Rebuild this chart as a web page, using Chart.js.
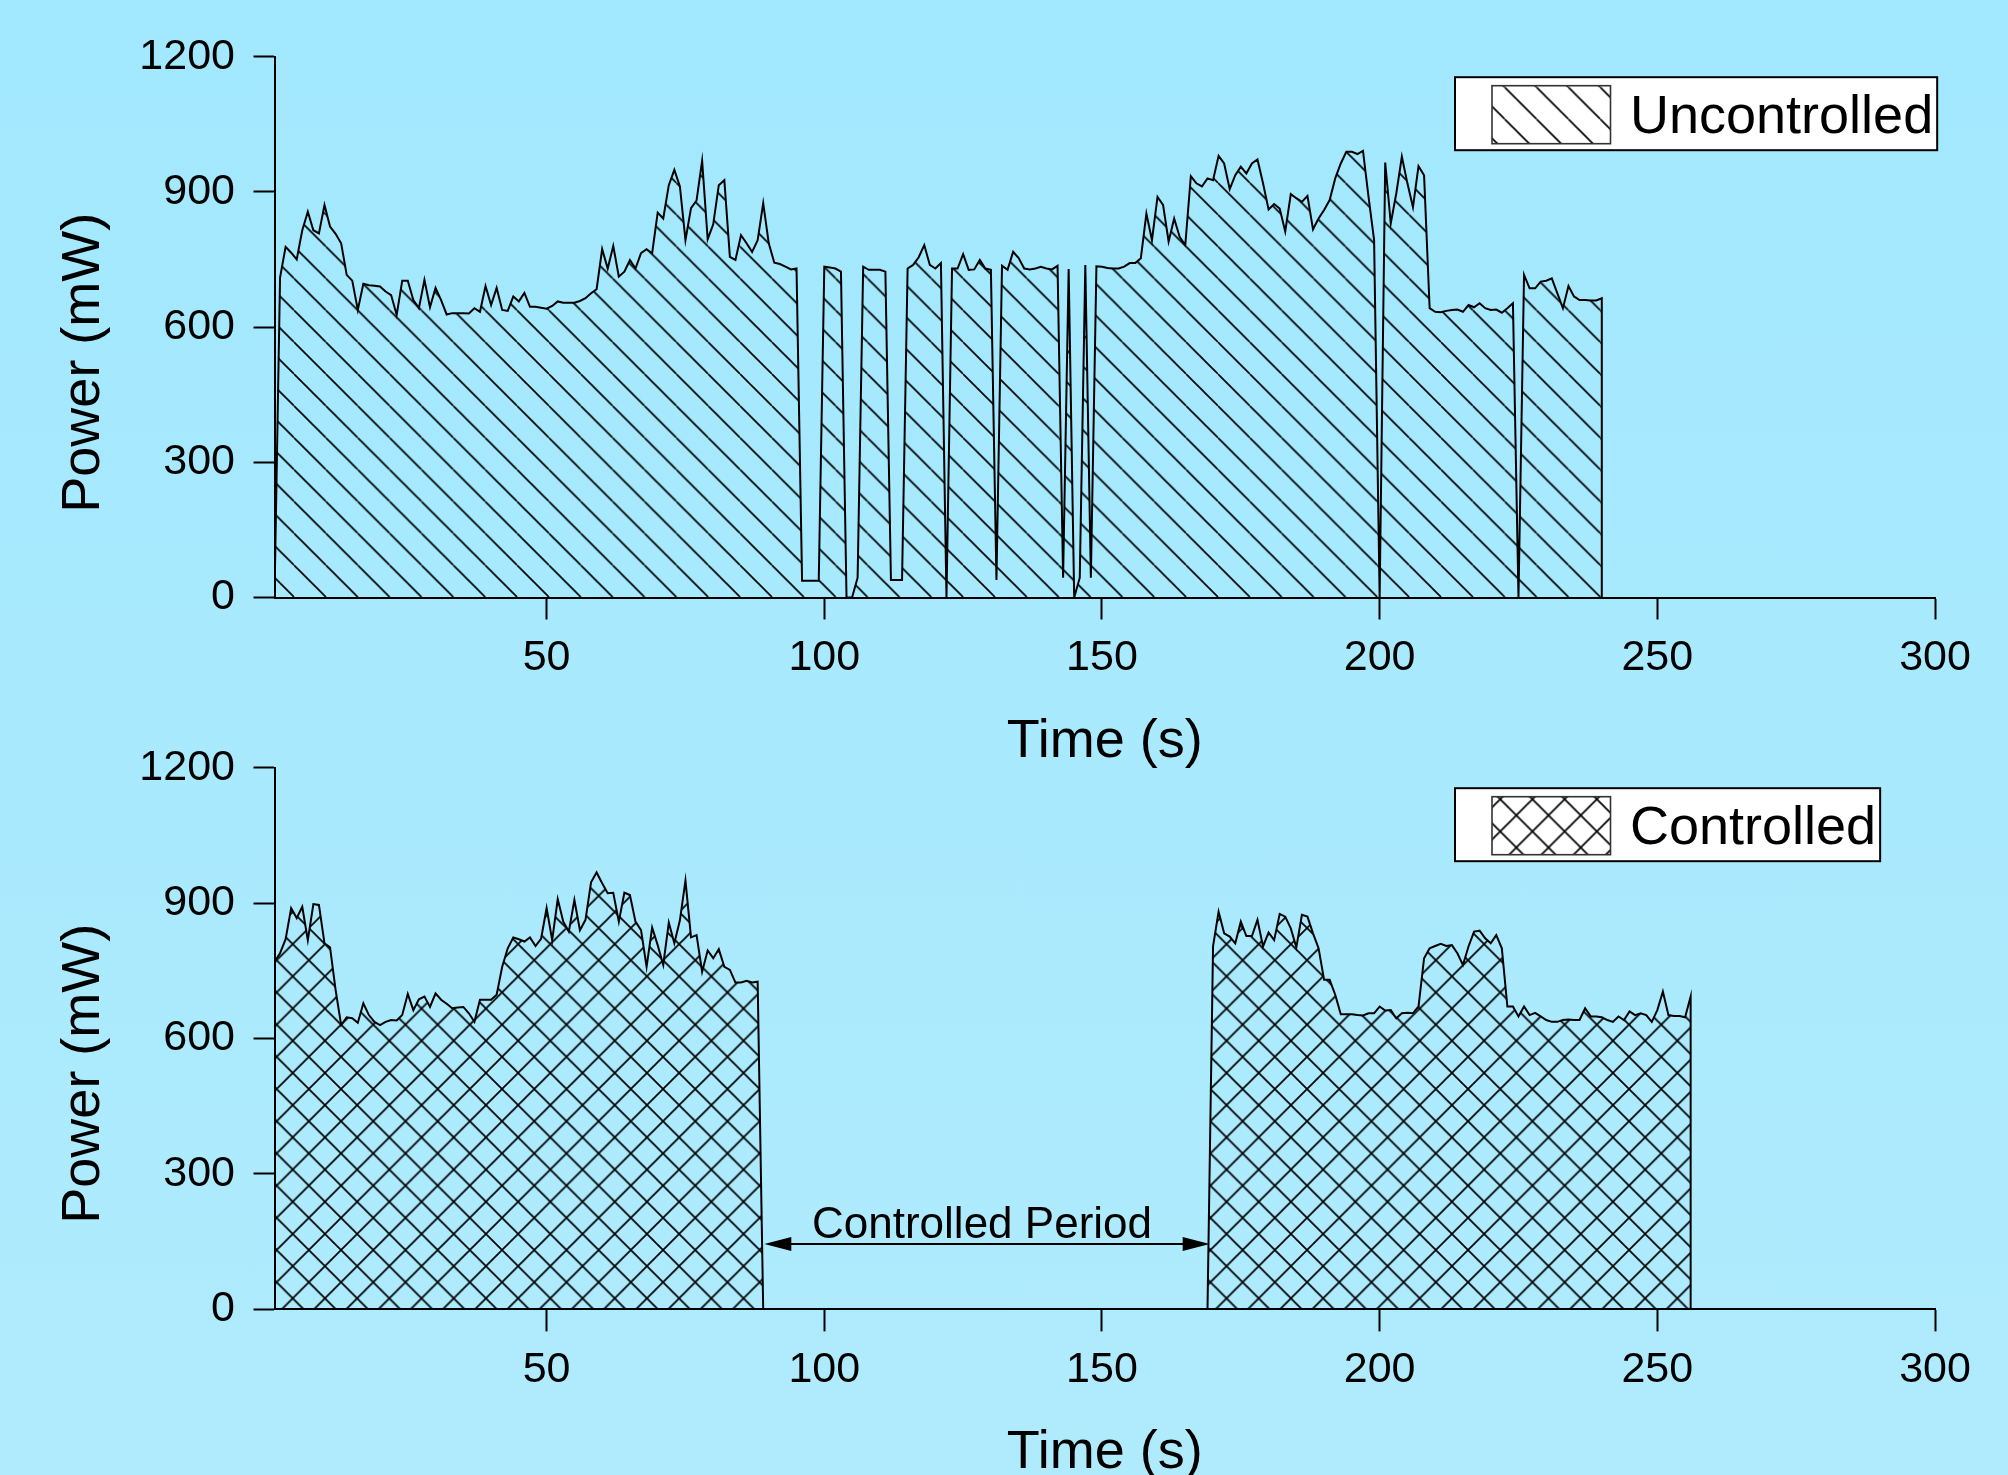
<!DOCTYPE html>
<html>
<head>
<meta charset="utf-8">
<title>Power (mW) - Uncontrolled vs Controlled</title>
<script src="https://cdn.jsdelivr.net/npm/chart.js@4.4.1/dist/chart.umd.min.js"></script>
<style>
    html, body { margin: 0; padding: 0; }
    body {
        width: 2008px;
        height: 1475px;
        overflow: hidden;
        position: relative;
        background: linear-gradient(#a2e8fe, #b0ebfd);
    }
    .panel { position: absolute; left: 0; }
    #topPanel { top: 0; }
    #bottomPanel { top: 700px; }
</style>
</head>
<body>
<div class="panel" id="topPanel"><canvas id="uncontrolledChart" width="2008" height="780"></canvas></div>
<div class="panel" id="bottomPanel"><canvas id="controlledChart" width="2008" height="775"></canvas></div>
<script>
/* ==========================================================================
   Data (power in mW, one sample per second)
   ========================================================================== */

const xTicks = [50, 100, 150, 200, 250, 300];
const yTicks = [0, 300, 600, 900, 1200];

// Uncontrolled run, t = 1 .. 240 s
const uncontrolledStart = 1;
const uncontrolledPower = [
    0, 710, 778, 765, 750, 815, 856, 815, 808, 871,
    823, 807, 786, 716, 703, 638, 696, 693, 692, 690,
    679, 671, 627, 703, 703, 660, 642, 705, 644, 687,
    660, 628, 631, 631, 631, 630, 642, 634, 691, 649,
    687, 638, 636, 668, 657, 676, 645, 645, 643, 641,
    647, 657, 654, 654, 654, 658, 664, 675, 684, 773,
    730, 780, 712, 723, 749, 730, 764, 773, 764, 854,
    841, 915, 949, 912, 793, 864, 881, 969, 795, 828,
    915, 926, 756, 749, 804, 786, 767, 793, 875, 786,
    743, 740, 734, 728, 730, 37, 37, 37, 37, 734,
    732, 730, 723, 0, 0, 44, 734, 727, 727, 727,
    723, 39, 39, 39, 730, 738, 755, 782, 738, 730,
    742, 0, 730, 730, 762, 727, 728, 749, 730, 727,
    39, 736, 727, 767, 753, 730, 728, 730, 734, 730,
    728, 736, 44, 729, 0, 44, 738, 44, 735, 734,
    731, 730, 730, 734, 742, 742, 753, 852, 793, 889,
    871, 790, 841, 800, 782, 935, 919, 912, 930, 926,
    980, 963, 906, 937, 956, 941, 963, 972, 919, 861,
    873, 863, 812, 895, 886, 878, 891, 817, 841, 860,
    882, 930, 963, 989, 989, 984, 991, 889, 793, 0,
    965, 830, 897, 978, 919, 866, 957, 937, 642, 634,
    633, 636, 638, 639, 634, 649, 644, 653, 642, 638,
    639, 632, 642, 653, 0, 716, 686, 686, 701, 703,
    708, 675, 642, 691, 668, 660, 660, 659, 659, 664
];

// Controlled run, before the controlled period, t = 1 .. 89 s
const controlledStartA = 1;
const controlledPowerA = [
    770, 789, 820, 889, 867, 892, 818, 898, 896, 811,
    802, 708, 630, 647, 645, 635, 678, 652, 637, 630,
    637, 641, 640, 652, 699, 663, 687, 693, 670, 700,
    686, 677, 667, 669, 670, 656, 637, 686, 686, 686,
    697, 759, 800, 824, 820, 815, 824, 805, 821, 889,
    818, 909, 859, 837, 907, 840, 863, 946, 968, 944,
    922, 923, 859, 923, 918, 859, 840, 759, 846, 807,
    763, 857, 811, 862, 950, 824, 829, 748, 795, 778,
    798, 759, 752, 724, 724, 728, 724, 726, 0
];

// Controlled run, after the controlled period, t = 169 .. 256 s
const controlledStartB = 169;
const controlledPowerB = [
    0,
    804, 881, 833, 826, 811, 859, 827, 827, 863, 804,
    835, 818, 876, 870, 844, 802, 874, 870, 833, 800,
    730, 730, 697, 654, 654, 654, 652, 651, 656, 656,
    671, 662, 663, 645, 656, 657, 656, 671, 778, 800,
    805, 810, 805, 807, 789, 763, 804, 837, 839, 822,
    811, 829, 800, 671, 671, 649, 671, 652, 657, 649,
    641, 637, 637, 641, 642, 641, 641, 667, 649, 649,
    647, 641, 637, 649, 641, 660, 652, 656, 652, 637,
    663, 704, 652, 650, 650, 647, 693
];

// "Controlled Period" arrow: from / to (s) and height (mW)
const controlledPeriod = [89.2, 169.4];
const arrowLevel = 145;

/* ==========================================================================
   Helpers
   ========================================================================== */

const FONT = '"Liberation Sans", Arial, Helvetica, sans-serif';

// turn a run of 1 s samples into points, closing the area back to 0
function toPoints(start, values) {
    const pts = values.map((v, i) => ({ x: start + i, y: v }));
    const last = start + values.length - 1;
    if (values[values.length - 1] !== 0) {
        pts.push({ x: last, y: 0 });
    }
    return pts;
}

/**
 * Hatch pattern, 45 degree lines
 * @param {boolean} cross - draw both diagonals
 * @param {number} period - horizontal spacing of the lines (px)
 * @param {number} ax - x of a point lying on a line (canvas px)
 * @param {number} ay - y of that point
 */
function makeHatch(cross, period, ax, ay) {
    const size = 32;
    const tile = document.createElement('canvas');
    tile.width = size;
    tile.height = size;
    const t = tile.getContext('2d');
    t.strokeStyle = '#000';
    t.lineWidth = 1.7;
    t.beginPath();
    for (const k of [-size, 0, size]) {
        t.moveTo(k, 0);
        t.lineTo(k + size, size);
        if (cross) {
            t.moveTo(k, size);
            t.lineTo(k + size, 0);
        }
    }
    t.stroke();
    const pattern = t.createPattern(tile, 'repeat');
    const s = period / size;
    pattern.setTransform(new DOMMatrix([s, 0, 0, s, ax, ay]));
    return pattern;
}

function drawArrowHead(ctx, x, y, dir) {
    const len = 27, half = 7;
    ctx.beginPath();
    ctx.moveTo(x, y);
    ctx.lineTo(x + dir * len, y - half);
    ctx.lineTo(x + dir * len, y + half);
    ctx.closePath();
    ctx.fill();
}

/* ==========================================================================
   Titles, legend box and annotation
   ========================================================================== */

const decor = {
    id: 'decor',
    afterDatasetsDraw(chart, args, opts) {
        const ctx = chart.ctx;
        const area = chart.chartArea;
        ctx.save();
        ctx.fillStyle = '#000';
        ctx.strokeStyle = '#000';

        // y axis title
        ctx.font = '54px ' + FONT;
        ctx.textAlign = 'center';
        ctx.textBaseline = 'alphabetic';
        ctx.save();
        ctx.translate(98.6, area.top + 306);
        ctx.rotate(-Math.PI / 2);
        ctx.fillText('Power (mW)', 0, 0);
        ctx.restore();

        // x axis title
        ctx.fillText('Time (s)', (area.left + area.right) / 2, area.bottom + 159);

        // legend
        ctx.font = '54px ' + FONT;
        const textW = ctx.measureText(opts.label).width;
        const boxX = 1455, boxY = area.top + 20.5;
        const boxW = (1630 - boxX) + textW + 4, boxH = 73;
        ctx.fillStyle = '#fff';
        ctx.fillRect(boxX, boxY, boxW, boxH);
        ctx.lineWidth = 2;
        ctx.strokeRect(boxX, boxY, boxW, boxH);

        const swX = 1492, swY = boxY + 8.5, swW = 118.5, swH = 58;
        ctx.fillStyle = opts.pattern;
        ctx.fillRect(swX, swY, swW, swH);
        ctx.lineWidth = 1.6;
        ctx.strokeStyle = '#333';
        ctx.strokeRect(swX, swY, swW, swH);

        ctx.fillStyle = '#000';
        ctx.textAlign = 'left';
        ctx.fillText(opts.label, 1630, boxY + 56);

        // controlled period annotation
        if (opts.arrow) {
            const xs = chart.scales.x, ys = chart.scales.y;
            const x1 = xs.getPixelForValue(controlledPeriod[0]);
            const x2 = xs.getPixelForValue(controlledPeriod[1]);
            const y = ys.getPixelForValue(arrowLevel);
            ctx.strokeStyle = '#000';
            ctx.lineWidth = 2;
            ctx.beginPath();
            ctx.moveTo(x1 + 20, y);
            ctx.lineTo(x2 - 20, y);
            ctx.stroke();
            drawArrowHead(ctx, x1, y, 1);
            drawArrowHead(ctx, x2, y, -1);
            ctx.font = '44px ' + FONT;
            ctx.textAlign = 'center';
            ctx.fillText('Controlled Period', (x1 + x2) / 2 - 5, y - 6);
        }
        ctx.restore();
    }
};

/* ==========================================================================
   Chart factory
   ========================================================================== */

function buildChart(canvasId, points, pattern, label, withArrow, plotTop, plotBottom) {
    const canvas = document.getElementById(canvasId);
    const ctx = canvas.getContext('2d');
    const tickFont = { family: FONT, size: 43 };

    return new Chart(ctx, {
        type: 'line',
        data: {
            datasets: [{
                label: label,
                data: points,
                borderColor: '#000',
                borderWidth: 2,
                backgroundColor: pattern,
                fill: 'origin',
                tension: 0,
                pointRadius: 0,
                pointHoverRadius: 0
            }]
        },
        options: {
            responsive: false,
            animation: false,
            events: [],
            layout: {
                padding: { top: plotTop, right: 73, bottom: 0, left: 0 }
            },
            plugins: {
                legend: { display: false },
                tooltip: { enabled: false },
                decor: { label: label, pattern: pattern, arrow: withArrow }
            },
            scales: {
                x: {
                    type: 'linear',
                    min: 1,
                    max: 300,
                    afterBuildTicks: (scale) => {
                        scale.ticks = xTicks.map(v => ({ value: v }));
                    },
                    afterFit: (scale) => {
                        scale.height = canvas.height - plotBottom;
                    },
                    ticks: {
                        color: '#000',
                        font: tickFont,
                        padding: 13,
                        maxRotation: 0,
                        autoSkip: false,
                        callback: (v) => String(v)
                    },
                    grid: {
                        drawOnChartArea: false,
                        drawTicks: true,
                        tickLength: 22,
                        tickWidth: 2,
                        tickColor: '#000'
                    },
                    border: { display: true, color: '#000', width: 2 }
                },
                y: {
                    min: 0,
                    max: 1200,
                    afterBuildTicks: (scale) => {
                        scale.ticks = yTicks.map(v => ({ value: v }));
                    },
                    afterFit: (scale) => {
                        scale.width = 274.5;
                    },
                    ticks: {
                        color: '#000',
                        font: tickFont,
                        padding: 18.5,
                        callback: (v) => String(v)
                    },
                    grid: {
                        drawOnChartArea: false,
                        drawTicks: true,
                        tickLength: 21,
                        tickWidth: 2,
                        tickColor: '#000'
                    },
                    border: { display: true, color: '#000', width: 2 }
                }
            }
        },
        plugins: [decor]
    });
}

const uncontrolledPoints = toPoints(uncontrolledStart, uncontrolledPower);
const controlledPoints = toPoints(controlledStartA, controlledPowerA)
    .concat(toPoints(controlledStartB, controlledPowerB));

// single hatch for the uncontrolled run, cross hatch for the controlled run
const singleHatch = makeHatch(false, 31.86, 294, 597);
const crossHatch = makeHatch(true, 32.2, 292.7, 501.7);

buildChart('uncontrolledChart', uncontrolledPoints, singleHatch, 'Uncontrolled', false, 56.7, 597.5);
buildChart('controlledChart', controlledPoints, crossHatch, 'Controlled', true, 67.7, 609.4);
</script>
</body>
</html>
